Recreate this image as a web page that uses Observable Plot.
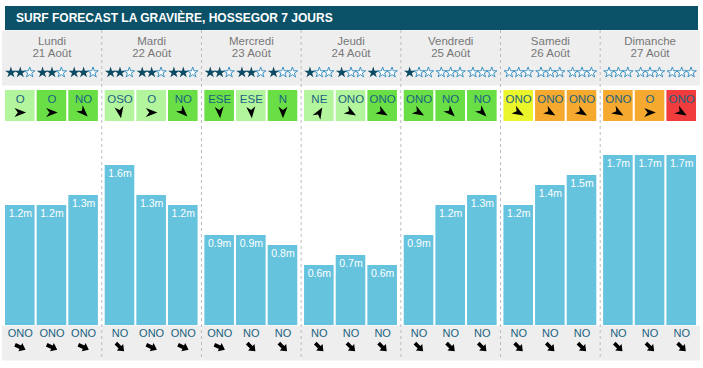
<!DOCTYPE html>
<html><head><meta charset="utf-8">
<script src="https://cdn.jsdelivr.net/npm/d3@7"></script>
<script src="https://cdn.jsdelivr.net/npm/@observablehq/plot@0.6"></script>
<style>
body{margin:0;background:#fff;font-family:"Liberation Sans",Arial,sans-serif;}
#title{margin:6px 5px 0 5px;height:24px;line-height:24px;background:#0b5269;color:#fff;font-weight:bold;font-size:12px;padding-left:11px;box-sizing:border-box;}
#chart svg{display:block;}
</style></head><body>
<div id="title">SURF FORECAST LA GRAVIÈRE, HOSSEGOR 7 JOURS</div>
<div id="chart"></div>
<script>
const dayNames = ["Lundi","Mardi","Mercredi","Jeudi","Vendredi","Samedi","Dimanche"];
const dayDates = ["21 Août","22 Août","23 Août","24 Août","25 Août","26 Août","27 Août"];
const waveHeights = [1.2,1.2,1.3, 1.6,1.3,1.2, 0.9,0.9,0.8, 0.6,0.7,0.6, 0.9,1.2,1.3, 1.2,1.4,1.5, 1.7,1.7,1.7];
const starRatings = [2,2,2, 2,2,2, 2,2,1, 1,1,1, 1,0,0, 0,0,0, 0,0,0];
const windDirs = ["O","O","NO", "OSO","O","NO", "ESE","ESE","N", "NE","ONO","ONO", "ONO","NO","NO", "ONO","ONO","ONO", "ONO","O","ONO"];
const windArrowDeg = [0,0,45, 80,0,45, 85,85,90, -60,30,30, 30,45,45, 30,30,30, 30,0,30];
const windQuality = ["bon","tresbon","tresbon", "bon","bon","tresbon", "tresbon","bon","tresbon", "bon","bon","tresbon", "tresbon","tresbon","tresbon", "moyen","mauvais","mauvais", "mauvais","mauvais","tresmauvais"];
const qualityLevels = ["bon","tresbon","moyen","mauvais","tresmauvais"];
const qualityColors = ["#b3f59d","#69df45","#eaf52b","#f5a92e","#f03c3c"];
const swellDirs = ["ONO","ONO","ONO", "NO","ONO","ONO", "ONO","NO","NO", "NO","NO","NO", "NO","NO","NO", "NO","NO","NO", "NO","NO","NO"];
const swellArrowDeg = [25,25,25, 45,25,25, 25,45,45, 45,45,45, 45,45,45, 45,45,45, 45,45,45];

const slots = waveHeights.map((w, i) => ({
  day: Math.floor(i / 3), slot: i % 3,
  wave: w, stars: starRatings[i],
  wind: windDirs[i], windDeg: windArrowDeg[i], quality: windQuality[i],
  swell: swellDirs[i], swellDeg: swellArrowDeg[i],
  dayName: dayNames[Math.floor(i / 3)], date: dayDates[Math.floor(i / 3)]
}));

// custom symbols (pointing right, rotated by the dot mark's rotate channel)
const dartSymbol = {draw(ctx, size) {
  const R = Math.sqrt(size / Math.PI);
  ctx.moveTo(R, 0); ctx.lineTo(-R, -0.78 * R); ctx.lineTo(-0.42 * R, 0); ctx.lineTo(-R, 0.78 * R); ctx.closePath();
}};
const fatArrowSymbol = {draw(ctx, size) {
  const R = Math.sqrt(size / Math.PI);
  ctx.moveTo(R, 0); ctx.lineTo(0, -0.78 * R); ctx.lineTo(0, -0.32 * R); ctx.lineTo(-R, -0.32 * R);
  ctx.lineTo(-R, 0.32 * R); ctx.lineTo(0, 0.32 * R); ctx.lineTo(0, 0.78 * R); ctx.closePath();
}};

const textCol = "#1b6381";
const starMarks = [0,1,2].flatMap(k => [
  Plot.dot(slots, {filter: d => d.stars > k, fx: "day", x: "slot", frameAnchor: "top", dy: 42, dx: (k - 1) * 9.4,
    symbol: "star", r: 3.6, fill: "#0d4a63", stroke: "none"}),
  Plot.dot(slots, {filter: d => d.stars <= k, fx: "day", x: "slot", frameAnchor: "top", dy: 42, dx: (k - 1) * 9.4,
    symbol: "star", r: 3.3, fill: "white", stroke: "#3f93c2", strokeWidth: 1})
]);

const chart = Plot.plot({
  width: 703, height: 338,
  marginTop: 0, marginBottom: 43, marginLeft: 5, marginRight: 7,
  fx: {domain: d3.range(7), paddingInner: 0.068, paddingOuter: 0, round: false, axis: null, label: null},
  x: {domain: [0,1,2], paddingInner: 0.065, paddingOuter: 0, round: false, axis: null, label: null},
  y: {domain: [0, 2.95], axis: null, label: null},
  color: {domain: qualityLevels, range: qualityColors},
  style: {background: "white", fontFamily: "'Liberation Sans', Arial, sans-serif"},
  marks: [
    Plot.frame({fill: "#eeeeee", stroke: "none", insetLeft: -3.4, insetRight: -3.4, insetBottom: 240}),
    Plot.frame({fill: "#eeeeee", stroke: "none", insetLeft: -3.4, insetRight: -3.4, insetTop: 295, insetBottom: -35}),
    Plot.ruleX(slots, {filter: d => d.slot === 0 && d.day > 0, fx: "day", x: "slot", dx: -18.2,
      stroke: "#bbbbbb", strokeDasharray: "3,3", insetBottom: -35}),
    Plot.text(slots, {filter: d => d.slot === 1, fx: "day", x: "slot", text: "dayName", frameAnchor: "top", lineAnchor: "middle", dy: 11, fill: "#777", fontSize: 11.5}),
    Plot.text(slots, {filter: d => d.slot === 1, fx: "day", x: "slot", text: "date", frameAnchor: "top", lineAnchor: "middle", dy: 23, fill: "#777", fontSize: 11.5}),
    ...starMarks,
    Plot.cell(slots, {fx: "day", x: "slot", fill: "quality", insetTop: 60, insetBottom: 204}),
    Plot.text(slots, {fx: "day", x: "slot", text: "wind", frameAnchor: "top", lineAnchor: "middle", dy: 68.5, fill: textCol, fontSize: 11.5}),
    Plot.dot(slots, {fx: "day", x: "slot", symbol: dartSymbol, r: 5.8, rotate: "windDeg", frameAnchor: "top", dy: 82, fill: "black", stroke: "none"}),
    Plot.barY(slots, {fx: "day", x: "slot", y: "wave", fill: "#66c3de"}),
    Plot.text(slots, {fx: "day", x: "slot", y: "wave", text: d => d.wave.toFixed(1) + "m", dy: 8.5, fill: "white", fontSize: 10.5}),
    Plot.text(slots, {fx: "day", x: "slot", text: "swell", frameAnchor: "bottom", lineAnchor: "middle", dy: 7.7, fill: textCol, fontSize: 11}),
    Plot.dot(slots, {fx: "day", x: "slot", symbol: fatArrowSymbol, r: 5.8, rotate: "swellDeg", frameAnchor: "bottom", dy: 21.7, fill: "black", stroke: "none"})
  ]
});
document.getElementById("chart").appendChild(chart);
</script>
</body></html>
